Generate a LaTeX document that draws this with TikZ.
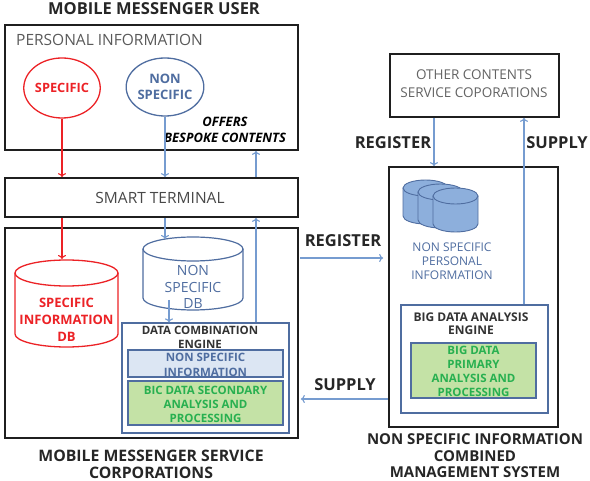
\documentclass[tikz,border=0pt]{standalone}
\usepackage{fontspec}
\setmainfont{Open Sans}
\usepackage{xcolor}
\usepackage{tikz}
\usetikzlibrary{shapes,arrows.meta,calc}

\definecolor{sred}{RGB}{236,34,38}
\definecolor{steel}{RGB}{79,109,160}
\definecolor{arrblue}{RGB}{118,156,208}
\definecolor{cylblue}{RGB}{141,175,220}
\definecolor{lblue}{RGB}{220,230,243}
\definecolor{lgreen}{RGB}{196,226,166}
\definecolor{sgreen}{RGB}{40,176,80}
\definecolor{dgray}{RGB}{72,72,72}

\begin{document}
\begin{tikzpicture}[x=1pt,y=1pt,yscale=-1,
  blkbox/.style={draw=black!88, line width=1.7pt, inner sep=0pt},
  bluebox/.style={draw=steel, line width=1.2pt, inner sep=0pt},
  capt/.style={font=\bfseries\fontsize{15.8}{17}\selectfont, align=center, text=black!85, inner sep=0pt},
  big/.style={font=\fontsize{15.5}{17}\selectfont, text=dgray, inner sep=0pt},
  lab/.style={font=\bfseries\fontsize{16.5}{18}\selectfont, text=black!85, inner sep=0pt},
  small/.style={font=\fontsize{12}{14}\selectfont, align=center, inner sep=0pt},
  smallb/.style={font=\bfseries\fontsize{11.5}{14}\selectfont, align=center, inner sep=0pt},
  redarr/.style={draw=sred, line width=1.1pt, -{To[length=4pt,width=8pt]}},
  bluarr/.style={draw=arrblue, line width=1.1pt, -{To[length=4pt,width=8pt]}},
  cylr/.style={draw=sred, line width=1.3pt, fill=white},
  cylb/.style={draw=steel, line width=1.2pt, fill=white},
  cylf/.style={draw=steel, line width=0.9pt, fill=cylblue}]
\useasboundingbox (0,0) rectangle (590,481);

% Text Node
\node (usr) [capt, font=\bfseries\fontsize{16.5}{18}\selectfont] at (154,9) {MOBILE MESSENGER USER};

%Shape: Rectangle [personal information]
\node (pinf) [blkbox, minimum width=293pt, minimum height=125pt] at (151.5,87.5) {};
\node (pinft) [big, anchor=west, text=dgray!90] at (16,40) {PERSONAL INFORMATION};
%Shape: Ellipse
\node (spec) [ellipse, draw=sred, line width=1.3pt, minimum width=69pt, minimum height=60pt, inner sep=0pt,
  text=sred, font=\bfseries\fontsize{12.8}{15}\selectfont] at (62,88) {SPECIFIC};
%Shape: Ellipse
\node (nspec) [ellipse, draw=steel, line width=1.3pt, minimum width=68pt, minimum height=58pt, inner sep=0pt,
  text=steel, align=center, font=\bfseries\fontsize{13}{15.5}\selectfont] at (165,87) {NON\\SPECIFIC};
% Text Node
\node (offer) [font=\bfseries\itshape\fontsize{13}{16}\selectfont, align=center, inner sep=0pt] at (225,130) {OFFERS\\BESPOKE CONTENTS};

%Shape: Rectangle [smart terminal]
\node (term) [blkbox, minimum width=293pt, minimum height=39pt] at (151.5,197.5) {};
\node (termt) [big] at (160,198) {SMART TERMINAL};

%Shape: Rectangle [service corporations]
\node (mmsc) [blkbox, minimum width=293pt, minimum height=210pt] at (151.5,333) {};

%Shape: Can [specific db]
\draw [cylr] (15,273) -- (15,334) arc [start angle=180, end angle=0, x radius=51.5, y radius=13] -- (118,273) ;
\draw [cylr] (66.5,273) ellipse [x radius=51.5, y radius=13] ;
\node (sdb) [text=sred, align=center, inner sep=0pt, font=\bfseries\fontsize{13}{17}\selectfont] at (66.5,320) {SPECIFIC\\INFORMATION\\DB};
\coordinate (sdbtop) at (62,259);

%Shape: Can [non specific db]
\draw [cylb] (143,249) -- (143,298) arc [start angle=180, end angle=0, x radius=50, y radius=12] -- (243,249) ;
\draw [cylb] (193,249) ellipse [x radius=50, y radius=12] ;
\node (nsdb) [text=steel, align=center, inner sep=0pt, font=\fontsize{14}{16.5}\selectfont] at (193,287) {NON\\SPECIFIC\\DB};
\coordinate (nsdbtop) at (165,239);
\coordinate (nsdbout) at (169,300);

%Shape: Rectangle [data combination engine]
\node (dce) [bluebox, minimum width=167pt, minimum height=110pt] at (205.5,378) {};
\node (dcet) [smallb, text=black!80] at (200,337) {DATA COMBINATION\\ENGINE};
\node (nsi) [bluebox, fill=lblue, minimum width=155pt, minimum height=27pt] at (205.5,363.5) {};
\node (nsit) [small, text=steel, font=\bfseries\fontsize{11.5}{15}\selectfont] at (205.5,364.5) {NON SPECIFIC\\INFORMATION};
\node (bic) [bluebox, fill=lgreen, minimum width=155pt, minimum height=44pt] at (205.5,403) {};
\node (bict) [smallb, text=sgreen] at (205.5,404) {BIC DATA SECONDARY\\ANALYSIS AND\\PROCESSING};

% Text Node
\node (mmsct) [capt] at (151,464) {MOBILE MESSENGER SERVICE\\CORPORATIONS};

%Shape: Rectangle [other contents]
\node (other) [blkbox, minimum width=169pt, minimum height=63pt] at (474.5,85.5) {};
\node (othert) [text=dgray!85, align=center, inner sep=0pt, font=\fontsize{13.5}{18}\selectfont] at (474,84) {OTHER CONTENTS\\SERVICE COPORATIONS};

%Shape: Rectangle [combined management system]
\node (nsic) [blkbox, minimum width=169pt, minimum height=260pt] at (473.5,297) {};

%Shape: Can [stacked db]
\foreach \cx/\cy in {425.5/188, 440.5/192, 455.5/196} {
  \draw [cylf] (\cx-22.5,\cy) -- (\cx-22.5,\cy+28) arc [start angle=180, end angle=0, x radius=22.5, y radius=8] -- (\cx+22.5,\cy) ;
  \draw [cylf] (\cx,\cy) ellipse [x radius=22.5, y radius=8] ;
}
\node (nspi) [small, text=steel] at (452,261) {NON SPECIFIC\\PERSONAL\\INFORMATION};

%Shape: Rectangle [big data analysis engine]
\node (bdae) [bluebox, minimum width=147pt, minimum height=108pt] at (474.5,359) {};
\node (bdaet) [smallb, text=black!80, font=\bfseries\fontsize{12}{13.5}\selectfont] at (471,323.5) {BIG DATA ANALYSIS\\ENGINE};
\node (bdp) [bluebox, fill=lgreen, minimum width=125pt, minimum height=55pt] at (473.5,370.5) {};
\node (bdpt) [smallb, text=sgreen, font=\bfseries\fontsize{11.5}{14}\selectfont] at (473.5,371) {BIG DATA\\PRIMARY\\ANALYSIS AND\\PROCESSING};

% Text Node
\node (nsict) [capt, font=\bfseries\fontsize{15}{16.5}\selectfont] at (475,456) {NON SPECIFIC INFORMATION\\COMBINED\\MANAGEMENT SYSTEM};

%Straight Lines [arrows]
\draw [redarr] (spec.south) -- (spec.south |- term.north) ;
\draw [redarr] (spec.south |- term.south) -- (sdbtop) ;
\draw [bluarr] (nspec.south) -- (nspec.south |- term.north) ;
\draw [bluarr] (nspec.south |- term.south) -- (nsdbtop) ;
\draw [bluarr] (nsdbout) -- (nsdbout |- dce.north) ;
\coordinate (offr) at (256,300);
\draw [bluarr] (offr |- dce.north) -- (offr |- term.south) ;
\draw [bluarr] (offr |- term.north) -- (offr |- pinf.south) ;
\coordinate (reg) at (300,258);
\draw [bluarr] (reg) -- ([xshift=-5pt]reg -| nsic.west) ;
\node (regl) [lab] at (343,241) {REGISTER};
\coordinate (sup) at (388,399);
\draw [bluarr] (sup) -- ([xshift=2pt]sup -| mmsc.east) ;
\node (supl) [lab] at (345,385) {SUPPLY};
\coordinate (rgx) at (434,140);
\draw [bluarr] (rgx |- other.south) -- (rgx |- nsic.north) ;
\node (regr) [lab] at (393,143) {REGISTER};
\coordinate (spx) at (524,200);
\draw [bluarr] (spx |- bdae.north) -- (spx |- other.south) ;
\node (supr) [lab] at (557,143) {SUPPLY};

\end{tikzpicture}
\end{document}
